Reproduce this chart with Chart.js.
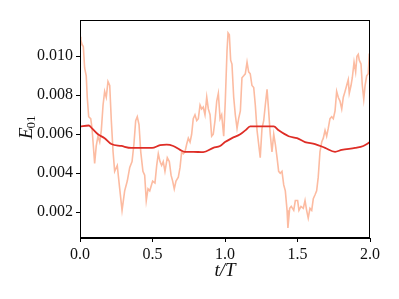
<!DOCTYPE html>
<html><head><meta charset="utf-8">
<script src="https://cdn.jsdelivr.net/npm/chart.js@4"></script>
<style>html,body{margin:0;padding:0;background:#fff;}#wrap{width:399px;height:299px;}</style>
</head><body><div id="wrap"><canvas id="c" width="399" height="299"></canvas></div>
<script>
const noisyT = [0, 0.005, 0.014, 0.023, 0.032, 0.043, 0.050, 0.060, 0.074, 0.083, 0.101, 0.112, 0.124, 0.136, 0.147, 0.159, 0.170, 0.181, 0.193, 0.205, 0.216, 0.228, 0.239, 0.257, 0.274, 0.290, 0.308, 0.326, 0.343, 0.359, 0.372, 0.384, 0.395, 0.407, 0.419, 0.434, 0.446, 0.457, 0.469, 0.481, 0.501, 0.517, 0.529, 0.540, 0.552, 0.563, 0.574, 0.586, 0.602, 0.616, 0.628, 0.639, 0.650, 0.662, 0.678, 0.690, 0.701, 0.712, 0.724, 0.736, 0.747, 0.759, 0.770, 0.781, 0.793, 0.805, 0.816, 0.828, 0.839, 0.850, 0.862, 0.874, 0.885, 0.897, 0.908, 0.919, 0.931, 0.943, 0.954, 0.966, 0.977, 0.991, 1.002, 1.014, 1.021, 1.030, 1.039, 1.048, 1.060, 1.071, 1.083, 1.094, 1.106, 1.117, 1.129, 1.140, 1.152, 1.163, 1.174, 1.186, 1.198, 1.209, 1.221, 1.232, 1.243, 1.255, 1.267, 1.278, 1.290, 1.301, 1.312, 1.324, 1.336, 1.347, 1.359, 1.370, 1.381, 1.393, 1.405, 1.416, 1.428, 1.434, 1.446, 1.457, 1.474, 1.485, 1.501, 1.510, 1.524, 1.540, 1.552, 1.563, 1.574, 1.586, 1.598, 1.609, 1.621, 1.632, 1.643, 1.655, 1.667, 1.678, 1.690, 1.701, 1.712, 1.724, 1.736, 1.747, 1.759, 1.770, 1.781, 1.793, 1.805, 1.816, 1.828, 1.839, 1.850, 1.857, 1.869, 1.878, 1.890, 1.901, 1.910, 1.919, 1.926, 1.938, 1.947, 1.957, 1.966, 1.977, 1.988, 1.995, 2.0];
const noisyE = [0.0110, 0.01085, 0.0106, 0.0105, 0.0094, 0.0090, 0.0079, 0.0069, 0.0068, 0.0063, 0.0045, 0.0054, 0.0059, 0.0056, 0.0062, 0.0075, 0.0082, 0.0079, 0.0087, 0.0085, 0.0067, 0.0051, 0.0041, 0.0044, 0.0032, 0.0021, 0.0031, 0.0036, 0.0043, 0.0046, 0.0055, 0.0067, 0.0069, 0.0065, 0.0051, 0.0041, 0.0039, 0.0026, 0.0032, 0.0031, 0.0036, 0.0035, 0.0044, 0.0050, 0.0046, 0.0044, 0.0046, 0.0041, 0.0048, 0.0046, 0.0039, 0.0036, 0.0032, 0.0036, 0.0038, 0.0043, 0.0051, 0.0050, 0.0051, 0.0055, 0.0058, 0.0056, 0.0060, 0.0068, 0.0070, 0.0067, 0.0068, 0.0075, 0.0073, 0.0074, 0.0070, 0.0079, 0.0073, 0.0070, 0.0059, 0.0060, 0.0067, 0.0077, 0.0081, 0.0068, 0.0070, 0.0059, 0.0077, 0.0103, 0.0112, 0.0111, 0.0098, 0.0096, 0.0079, 0.0070, 0.0063, 0.0068, 0.0072, 0.0089, 0.0090, 0.0091, 0.0097, 0.0092, 0.0091, 0.0085, 0.0084, 0.0075, 0.0062, 0.0055, 0.0048, 0.0063, 0.0067, 0.0075, 0.0083, 0.0072, 0.0060, 0.0051, 0.0060, 0.0055, 0.0048, 0.0041, 0.0040, 0.0041, 0.0034, 0.0031, 0.0021, 0.0012, 0.0022, 0.0023, 0.0021, 0.0026, 0.0026, 0.0021, 0.0023, 0.0022, 0.0026, 0.0021, 0.0017, 0.0022, 0.0021, 0.0027, 0.0029, 0.0031, 0.0038, 0.0051, 0.0056, 0.0058, 0.0062, 0.0059, 0.0063, 0.0068, 0.0069, 0.0068, 0.0072, 0.0082, 0.0079, 0.0077, 0.0073, 0.0079, 0.0082, 0.0085, 0.0088, 0.0081, 0.0085, 0.0089, 0.0097, 0.0092, 0.0100, 0.0101, 0.0098, 0.0096, 0.0085, 0.0078, 0.0085, 0.0090, 0.0091, 0.0101, 0.0101];
const meanT = [0, 0.06, 0.083, 0.124, 0.170, 0.216, 0.285, 0.354, 0.423, 0.497, 0.552, 0.598, 0.643, 0.690, 0.724, 0.781, 0.850, 0.919, 0.966, 1.0, 1.048, 1.105, 1.140, 1.174, 1.209, 1.336, 1.370, 1.439, 1.497, 1.552, 1.621, 1.690, 1.759, 1.805, 1.897, 1.954, 2.0];
const meanE = [0.0064, 0.00645, 0.0063, 0.0060, 0.0058, 0.0055, 0.0054, 0.0053, 0.0053, 0.0053, 0.00544, 0.00547, 0.0054, 0.0052, 0.0051, 0.0051, 0.00508, 0.0053, 0.0054, 0.0056, 0.0058, 0.0060, 0.0062, 0.0064, 0.0064, 0.0064, 0.0062, 0.0059, 0.0058, 0.0056, 0.0055, 0.0053, 0.0051, 0.0052, 0.0053, 0.0054, 0.0056];
const xTicks = [0, 0.5, 1.0, 1.5, 2.0];
const yTicks = [0.002, 0.004, 0.006, 0.008, 0.010];
const yLabelMain = 'E';
const yLabelSub = '01';

const toPts = (xs, ys) => xs.map((x, i) => ({x: x, y: ys[i]}));
const FONT = "'Liberation Serif', 'DejaVu Serif', serif";

const frame = {
  id: 'frame',
  afterDraw(chart) {
    const a = chart.chartArea, ctx = chart.ctx;
    ctx.save();
    ctx.strokeStyle = '#000';
    ctx.lineWidth = 1;
    ctx.strokeRect(Math.round(a.left) + 0.5, Math.round(a.top) + 0.5, Math.round(a.right - a.left) - 1, Math.round(a.bottom - a.top) - 1);
    // y-axis label E_01 (italic E, upright subscript)
    const cy = (a.top + a.bottom) / 2;
    ctx.translate(32, cy + 10);
    ctx.rotate(-Math.PI / 2);
    ctx.fillStyle = '#111';
    ctx.textBaseline = 'alphabetic';
    ctx.textAlign = 'left';
    ctx.font = 'italic 19px ' + FONT;
    ctx.fillText(yLabelMain, 0, 0);
    const w = ctx.measureText(yLabelMain).width;
    ctx.font = '13px ' + FONT;
    ctx.fillText(yLabelSub, w - 1, 3);
    ctx.restore();
  }
};

new Chart(document.getElementById('c'), {
  type: 'line',
  data: {
    datasets: [
      {data: toPts(meanT, meanE), borderColor: '#de2d26', borderWidth: 1.8, pointRadius: 0, cubicInterpolationMode: 'monotone', fill: false},
      {data: toPts(noisyT, noisyE), borderColor: '#fcbba1', borderWidth: 1.6, pointRadius: 0, tension: 0, fill: false}
    ]
  },
  plugins: [frame],
  options: {
    responsive: false,
    animation: false,
    layout: {padding: {left: 0, top: 20, right: 29, bottom: 0}},
    plugins: {legend: {display: false}, tooltip: {enabled: false}},
    scales: {
      x: {
        type: 'linear', min: 0, max: 2,
        afterBuildTicks: s => { s.ticks = xTicks.map(v => ({value: v})); },
        afterFit: s => { s.height = 61; },
        grid: {display: true, drawOnChartArea: false, drawTicks: true, tickLength: 4, color: '#000'},
        border: {display: true, color: '#000'},
        ticks: {color: '#111', font: {family: FONT, size: 16}, padding: 3, maxRotation: 0, callback: v => Number(v).toFixed(1)},
        title: {display: true, text: 't/T', color: '#111', font: {family: FONT, size: 19, style: 'italic'}, padding: {top: 0, bottom: 17}}
      },
      y: {
        type: 'linear', min: 0.00068, max: 0.01186,
        afterBuildTicks: s => { s.ticks = yTicks.map(v => ({value: v})); },
        afterFit: s => { s.width = 80; },
        grid: {display: true, drawOnChartArea: false, drawTicks: true, tickLength: 4, color: '#000'},
        border: {display: true, color: '#000'},
        ticks: {color: '#111', font: {family: FONT, size: 16}, padding: 3, callback: v => Number(v).toFixed(3)},
        title: {display: false}
      }
    }
  }
});
</script>
</body></html>
